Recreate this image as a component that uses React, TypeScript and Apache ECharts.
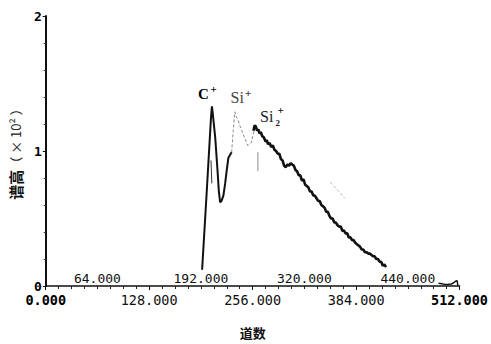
import React, { useEffect, useRef } from "react";
import * as echarts from "echarts";

// channel numbers (x) and spectrum height in units of 10^2 (y)
const bottomTicks = [0, 128, 256, 384, 512];
const upperTickPos = [64, 192, 320, 448];
const upperTickLabels = ["64.000", "192.000", "320.000", "440.000"];
const yTicks = [0, 1, 2];

const cPeak: number[][] = [
  [193.5, 0.12], [199.5, 0.73], [204.5, 1.25], [205.6, 1.33], [206.8, 1.27],
  [209.7, 1.1], [212.5, 0.86], [214.2, 0.7], [215.8, 0.62], [217.5, 0.63],
  [219.8, 0.67], [222, 0.76], [224, 0.86], [226, 0.95], [228, 0.97], [230, 0.99],
];

const siPeak: number[][] = [
  [230, 0.99], [232, 1.15], [234, 1.29], [236, 1.25], [238, 1.23], [240, 1.19],
  [242, 1.16], [244, 1.13], [246, 1.1], [248, 1.07], [250, 1.04], [252, 1.05],
  [254.4, 1.065], [256.5, 1.12], [258.4, 1.16],
];

const si2Decay: number[][] = [
  [257, 1.15], [258.5, 1.19], [260, 1.18], [261.5, 1.15], [263, 1.16], [264.5, 1.13],
  [266, 1.14], [268, 1.11], [270, 1.1], [272, 1.07], [273.5, 1.08], [275, 1.05],
  [277, 1.06], [279, 1.03], [281, 1.04], [283, 1.01], [285, 1.0], [287, 0.98],
  [289, 0.98], [291, 0.94], [293, 0.93], [295, 0.89], [297, 0.88], [299, 0.9],
  [301, 0.89], [303, 0.91], [305, 0.9], [307, 0.89], [309, 0.86], [311, 0.85],
  [313, 0.82], [315, 0.82], [317, 0.78], [319, 0.79], [321, 0.75], [323, 0.74],
  [325, 0.73], [327, 0.7], [329, 0.7], [331, 0.67], [333, 0.67], [335, 0.65],
  [337, 0.63], [339, 0.63], [341, 0.6], [343, 0.59], [345, 0.58], [347, 0.55],
  [349, 0.55], [351, 0.52], [353, 0.5], [355, 0.5], [357, 0.47], [359, 0.47],
  [361, 0.45], [363, 0.44], [365, 0.44], [367, 0.41], [369, 0.41], [371, 0.39],
  [373, 0.39], [375, 0.36], [377, 0.36], [379, 0.34], [381, 0.34], [383, 0.32],
  [385, 0.31], [387, 0.3], [389, 0.29], [391, 0.27], [393, 0.27], [395, 0.25],
  [397, 0.25], [399, 0.24], [401, 0.24], [403, 0.23], [405, 0.22], [407, 0.22],
  [409, 0.2], [411, 0.2], [413, 0.18], [415, 0.18], [417, 0.15], [419, 0.16],
  [421, 0.14],
];

const tail: number[][] = [
  [486, 0.02], [490, 0.016], [494, 0.012], [498, 0.013], [502, 0.015],
  [505, 0.025], [507, 0.035], [509, 0.04], [510, 0.0],
];

const strayDark: number[][] = [[204.5, 0.93], [205.5, 0.76]];
const strayGrey: number[][] = [[262.5, 0.99], [262.5, 0.85]];
const strayFaint: number[][] = [[352, 0.77], [370, 0.65]];

const MONO = "'DejaVu Sans Mono', monospace";
const SERIF = "'Liberation Serif', 'DejaVu Serif', serif";
const CJK = "'Noto Sans CJK SC', sans-serif";

export default function App() {
  const ref = useRef<HTMLDivElement>(null);

  useEffect(() => {
    if (!ref.current) return;
    const chart = echarts.init(ref.current, undefined, { renderer: "svg" });

    const lineSeries = (data: number[][], color: string, width: number, type: any = "solid") => ({
      type: "line",
      data,
      showSymbol: false,
      smooth: false,
      silent: true,
      lineStyle: { color, width, type },
      xAxisIndex: 0,
      yAxisIndex: 0,
    });

    const upperFmt = (v: number) => {
      const i = upperTickPos.indexOf(Math.round(v));
      return i >= 0 ? upperTickLabels[i] : "";
    };

    chart.setOption({
      animation: false,
      backgroundColor: "#ffffff",
      grid: { left: 43, right: 28, top: 16, bottom: 52, containLabel: false },
      xAxis: [
        {
          type: "value",
          min: bottomTicks[0],
          max: bottomTicks[bottomTicks.length - 1],
          interval: 128,
          position: "bottom",
          name: "道数",
          nameLocation: "middle",
          nameGap: 40,
          nameTextStyle: { fontFamily: CJK, fontSize: 13, fontWeight: "bold", color: "#111" },
          axisLine: { show: true, lineStyle: { color: "#111", width: 1.5 } },
          axisTick: { show: true, inside: false, length: 4, lineStyle: { color: "#111", width: 1 } },
          minorTick: { show: true, splitNumber: 8, length: 3, lineStyle: { color: "#222", width: 1 } },
          splitLine: { show: false },
          axisLabel: {
            margin: 7,
            fontFamily: MONO,
            fontSize: 13.5,
            color: "#111",
            formatter: (v: number) => {
              const s = v.toFixed(3);
              return v === 0 || v === 512 ? `{b|${s}}` : s;
            },
            rich: { b: { fontFamily: MONO, fontSize: 13.5, fontWeight: "bold", color: "#000" } },
          },
        },
        {
          type: "value",
          min: 0,
          max: 512,
          interval: 64,
          position: "bottom",
          axisLine: { show: false },
          axisTick: { show: false },
          splitLine: { show: false },
          axisLabel: {
            inside: true,
            margin: 1.5,
            fontFamily: MONO,
            fontSize: 13,
            color: "#111",
            formatter: upperFmt,
          },
        },
      ],
      yAxis: {
        type: "value",
        min: yTicks[0],
        max: yTicks[yTicks.length - 1],
        interval: 1,
        name: "{b|谱高}{n|（ × 10² ）}",
        nameLocation: "middle",
        nameGap: 17,
        nameRotate: 90,
        nameTextStyle: {
          rich: {
            b: { fontFamily: CJK, fontSize: 15, fontWeight: "bold", color: "#111" },
            n: { fontFamily: CJK, fontSize: 13, color: "#222" },
          },
        },
        axisLine: { show: true, lineStyle: { color: "#111", width: 2 } },
        axisTick: { show: true, length: 3, lineStyle: { color: "#111" } },
        minorTick: { show: true, splitNumber: 5, length: 2, lineStyle: { color: "#333" } },
        splitLine: { show: false },
        axisLabel: {
          margin: 4,
          fontFamily: MONO,
          fontSize: 13,
          lineHeight: 11,
          fontWeight: "bold",
          color: "#000",
        },
      },
      series: [
        lineSeries(siPeak, "#8a8a8a", 1, [3, 2]),
        lineSeries(strayGrey, "#8a8a8a", 1),
        lineSeries(strayFaint, "#b5b5b5", 1, [3, 2]),
        lineSeries(strayDark, "#333", 1),
        lineSeries(cPeak, "#111", 2),
        lineSeries(si2Decay, "#111", 2.6),
        lineSeries(tail, "#111", 1.5),
      ],
      graphic: [
        { type: "text", x: 198, y: 93.5, style: { text: "C", font: `bold 15px ${SERIF}`, fill: "#000", textVerticalAlign: "middle" } },
        { type: "text", x: 210.5, y: 89, style: { text: "+", font: `bold 11px ${SERIF}`, fill: "#000", textVerticalAlign: "middle" } },
        { type: "text", x: 230.5, y: 97.5, style: { text: "Si", font: `16px ${SERIF}`, fill: "#444", textVerticalAlign: "middle" } },
        { type: "text", x: 245, y: 93, style: { text: "+", font: `bold 11px ${SERIF}`, fill: "#333", textVerticalAlign: "middle" } },
        { type: "text", x: 260, y: 116.5, style: { text: "Si", font: `16px ${SERIF}`, fill: "#222", textVerticalAlign: "middle" } },
        { type: "text", x: 275.5, y: 123, style: { text: "2", font: `bold 9px ${SERIF}`, fill: "#222", textVerticalAlign: "middle" } },
        { type: "text", x: 277.5, y: 110, style: { text: "+", font: `bold 11px ${SERIF}`, fill: "#111", textVerticalAlign: "middle" } },
      ],
    });

    return () => chart.dispose();
  }, []);

  return (
    <div
      ref={ref}
      style={{ position: "fixed", left: 0, top: 0, width: 491, height: 344, background: "#fff" }}
    />
  );
}
